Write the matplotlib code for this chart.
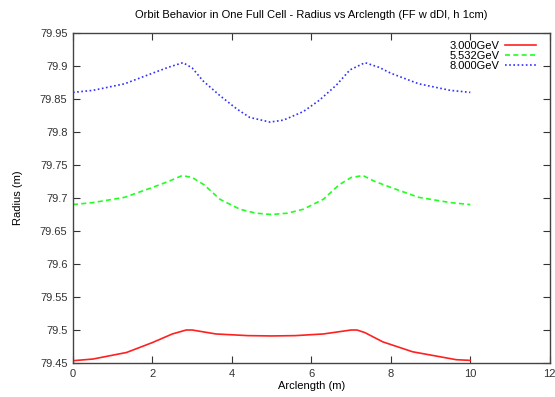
import matplotlib.pyplot as plt

plt.rcParams["font.family"] = ["Liberation Sans", "DejaVu Sans"]

# arclength samples (m) and radius (m) per beam energy
s_8000 = [0, 0.5, 1.3, 2.0, 2.4, 2.77, 3.0, 3.28, 3.7, 4.12, 4.45, 4.96,
          5.3, 5.8, 6.2, 6.63, 6.97, 7.35, 7.7, 8.0, 8.7, 9.5, 10]
r_8000 = [79.860, 79.863, 79.873, 79.889, 79.898, 79.905, 79.897, 79.877,
          79.855, 79.835, 79.822, 79.815, 79.818, 79.831, 79.848, 79.871,
          79.894, 79.905, 79.898, 79.889, 79.873, 79.863, 79.860]

s_5532 = [0, 0.5, 1.3, 2.0, 2.4, 2.75, 3.0, 3.3, 3.7, 4.2, 4.6, 5.0,
          5.4, 5.8, 6.3, 6.7, 7.0, 7.3, 7.6, 8.0, 8.7, 9.5, 10]
r_5532 = [79.690, 79.693, 79.701, 79.716, 79.725, 79.734, 79.731, 79.720,
          79.698, 79.683, 79.677, 79.675, 79.677, 79.683, 79.698, 79.720,
          79.731, 79.734, 79.725, 79.716, 79.701, 79.693, 79.690]

s_3000 = [0, 0.5, 1.35, 2.0, 2.5, 2.85, 3.0, 3.6, 4.4, 5.0, 5.6, 6.3,
          7.0, 7.15, 7.35, 7.8, 8.55, 9.65, 10]
r_3000 = [79.4535, 79.456, 79.466, 79.481, 79.494, 79.500, 79.500, 79.494,
          79.4915, 79.491, 79.4915, 79.494, 79.500, 79.500, 79.496, 79.482,
          79.467, 79.455, 79.454]

labels = ["3.000GeV", "5.532GeV", "8.000GeV"]
yticks = [79.45, 79.5, 79.55, 79.6, 79.65, 79.7, 79.75, 79.8, 79.85, 79.9, 79.95]
xticks = [0, 2, 4, 6, 8, 10, 12]

fig = plt.figure(figsize=(5.55, 3.97), dpi=100)
ax = fig.add_axes([0.1315, 0.0856, 0.859, 0.8314])

ax.plot(s_3000, r_3000, color="#ff2020", lw=1.2, label=labels[0])
ax.plot(s_5532, r_5532, color="#20ff20", lw=1.2, ls=(0, (3, 2)), label=labels[1])
ax.plot(s_8000, r_8000, color="#3030ff", lw=1.2, ls=(0, (1, 1.5)), label=labels[2])

ax.set_xlim(0, 12)
ax.set_ylim(79.45, 79.95)
ax.set_xticks(xticks)
ax.set_yticks(yticks)
ax.set_yticklabels([f"{v:g}" for v in yticks])
ax.tick_params(direction="in", length=5, width=0.8, top=True, right=True,
               labelsize=8, colors="#333333", pad=4)
for sp in ax.spines.values():
    sp.set_color("#444444")
    sp.set_linewidth(1.0)

ax.set_title("Orbit Behavior in One Full Cell - Radius vs Arclength (FF w dDI, h 1cm)",
             fontsize=8, pad=11)
ax.set_xlabel("Arclength (m)", fontsize=8, labelpad=2)
ax.set_ylabel("Radius (m)", fontsize=8, labelpad=12)

ax.legend(loc="upper right", bbox_to_anchor=(0.985, 0.995), frameon=False,
          markerfirst=False, fontsize=8, handlelength=2.8, handletextpad=0.5,
          labelspacing=0.0, borderaxespad=0.2)

fig.savefig("out.png", dpi=100)
